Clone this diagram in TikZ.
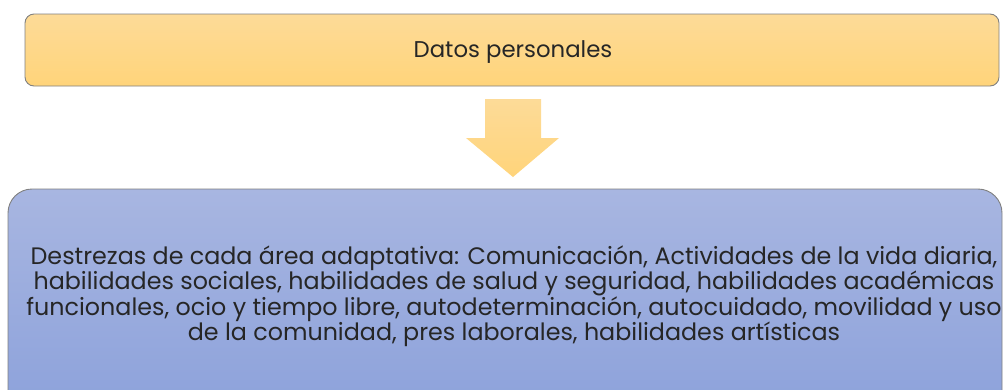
\documentclass[tikz,border=0pt]{standalone}
\usepackage{fontspec}
\setmainfont{Poppins}
\begin{document}
\begin{tikzpicture}[x=1pt,y=-1pt,
  topbox/.style={draw=black!50, line width=0.9pt, rounded corners=9pt, top color=topA, bottom color=topB},
  botbox/.style={draw=black!50, line width=0.9pt, rounded corners=24pt, top color=botA, bottom color=botB},
  lbl/.style={font=\fontsize{23.8}{25}\selectfont, text=black!85, align=center}]
\definecolor{topA}{RGB}{253,219,152}
\definecolor{topB}{RGB}{255,212,122}
\definecolor{botA}{RGB}{168,182,225}
\definecolor{botB}{RGB}{137,159,218}
\useasboundingbox (0,0) rectangle (1004,389);
\clip (0,0) rectangle (1004,389);
\path[topbox] (25,14) rectangle (999,86);
\node[lbl, font=\fontsize{22.8}{25}\selectfont] (top) at (513,52) {Datos personales};
\path[top color=topA, bottom color=topB] (485,99) -- (541,99) -- (541,138) -- (559,138) -- (513,177) -- (466,138) -- (485,138) -- cycle;
\coordinate (arrow) at (513,138);
\path[botbox] (8,189) rectangle (1002,440);
\node[lbl] (bot) at (514,296) {Destrezas de cada área adaptativa: Comunicación, Actividades de la vida diaria,\\
habilidades sociales, habilidades de salud y seguridad, habilidades académicas\\
funcionales, ocio y tiempo libre, autodeterminación, autocuidado, movilidad y uso\\
de la comunidad, pres laborales, habilidades artísticas};
\end{tikzpicture}
\end{document}
